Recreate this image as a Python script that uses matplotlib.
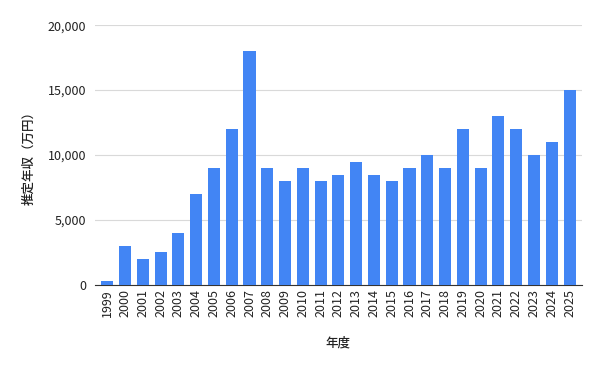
import matplotlib.pyplot as plt
from matplotlib.ticker import FuncFormatter

plt.rcParams['font.family'] = ['Noto Sans CJK JP', 'DejaVu Sans']

years = [str(y) for y in range(1999, 2026)]
income = [300, 3000, 2000, 2500, 4000, 7000, 9000, 12000, 18000, 9000,
          8000, 9000, 8000, 8500, 9500, 8500, 8000, 9000, 10000, 9000,
          12000, 9000, 13000, 12000, 10000, 11000, 15000]

fig, ax = plt.subplots(figsize=(6, 3.7), dpi=100)
fig.subplots_adjust(left=0.158, right=0.97, top=0.932, bottom=0.23)

x = range(len(years))
ax.bar(x, income, width=0.68, color='#4285F4', zorder=3)

ax.set_ylim(0, 20000)
ax.set_xlim(-0.7, len(years) - 0.3)
ax.set_yticks([0, 5000, 10000, 15000, 20000])
ax.yaxis.set_major_formatter(FuncFormatter(lambda v, p: f'{int(v):,}'))
ax.set_xticks(list(x))
ax.set_xticklabels(years, rotation=90)

ax.grid(axis='y', color='#d9d9d9', linewidth=0.8, zorder=0)
for side in ['top', 'right', 'left']:
    ax.spines[side].set_visible(False)
ax.spines['bottom'].set_color('#333333')
ax.tick_params(axis='both', length=0, labelsize=9, colors='#222222')
ax.tick_params(axis='x', pad=3)
ax.tick_params(axis='y', pad=6)

ax.set_ylabel('推定年収（万円）', fontsize=9, color='#222222', fontweight='medium', labelpad=9)
ax.set_xlabel('年度', fontsize=9, color='#222222', fontweight='medium', labelpad=14)

fig.savefig('out.png', dpi=100)
